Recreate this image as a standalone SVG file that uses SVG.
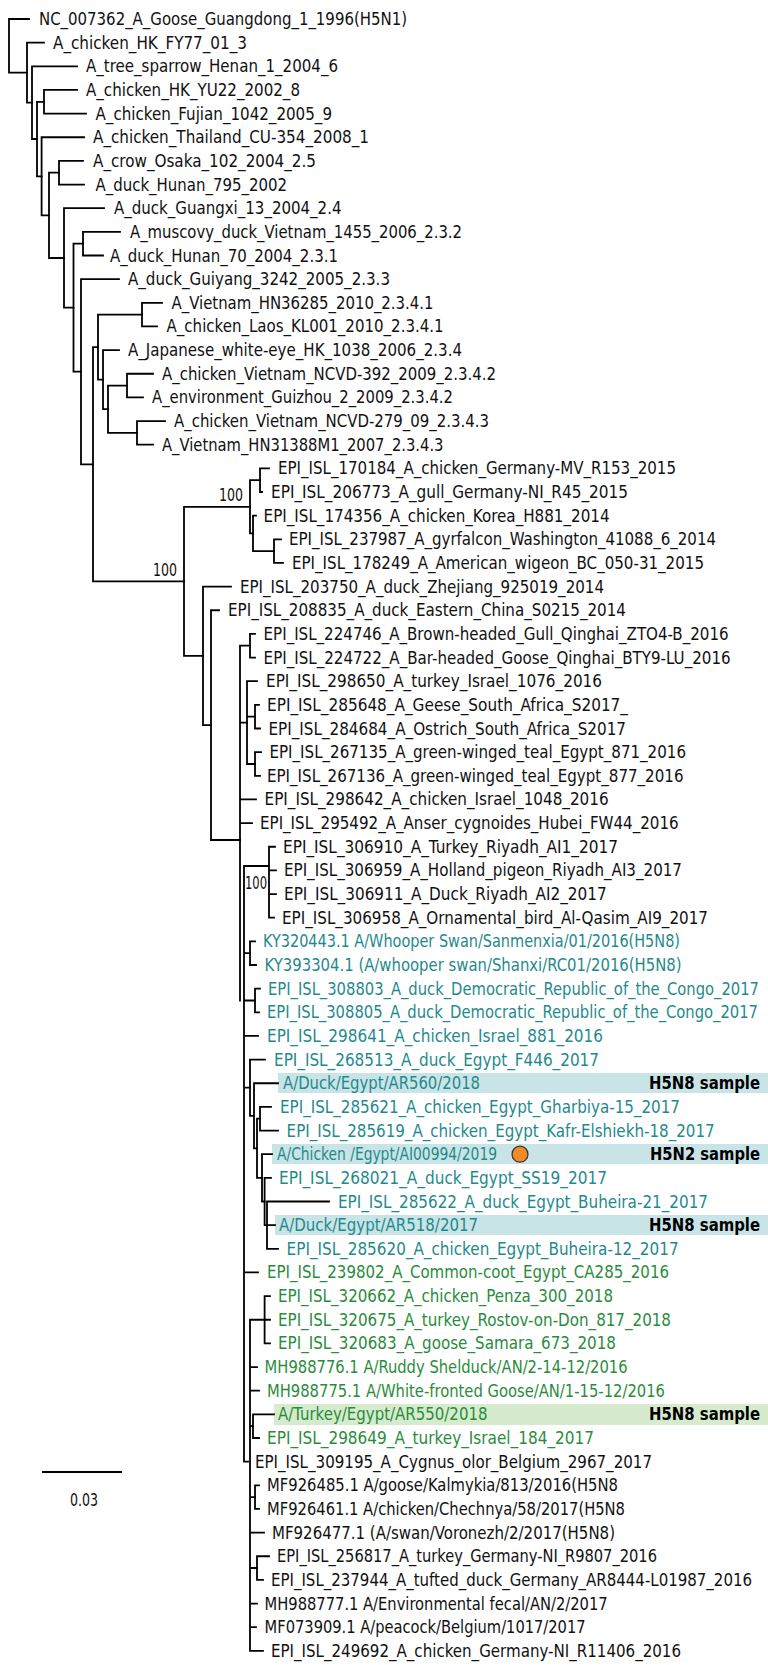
<svg xmlns="http://www.w3.org/2000/svg" width="768" height="1665" viewBox="0 0 768 1665">
<style>
text{font-family:"DejaVu Sans Condensed","DejaVu Sans","Liberation Sans",sans-serif;font-size:18px;fill:#111}
.tl{fill:#1f8a8c}
.gr{fill:#2a8c3c}
.hl{font-weight:bold;fill:#000}
.bs{font-size:17px}
.tree path{fill:none;stroke:#000;stroke-width:1.8;stroke-linecap:square}
.boxt{fill:#c9e4e7}
.boxg{fill:#d6ebcd}
</style>
<rect width="768" height="1665" fill="#fff"/>
<g id="highlights">
<rect class="boxt" x="278" y="1073" width="490" height="20"/>
<rect class="boxt" x="272" y="1144" width="496" height="20"/>
<rect class="boxt" x="275" y="1215" width="493" height="20"/>
<rect class="boxg" x="274" y="1404" width="494" height="21"/>
</g>
<g id="connectors" class="tree">
<path d="M9,19V72.7M9,19H29M9,72.7H27"/>
<path d="M27,42.65V102.7M27,42.65H44M27,102.7H32"/>
<path d="M32,66.3V139M32,66.3H77M32,139H37"/>
<path d="M37,101.8V176.3M37,101.8H44M37,176.3H41.6"/>
<path d="M44,89.95V113.6M44,89.95H77M44,113.6H86"/>
<path d="M41.6,137.25V215.3M41.6,137.25H84M41.6,215.3H49"/>
<path d="M49,172.7V258M49,172.7H59M49,258H64"/>
<path d="M59,160.9V184.55M59,160.9H83M59,184.55H84"/>
<path d="M64,208.2V307.7M64,208.2H104M64,307.7H73.5"/>
<path d="M73.5,243.7V371.7M73.5,243.7H83M73.5,371.7H81"/>
<path d="M83,231.85V255.5M83,231.85H120M83,255.5H103"/>
<path d="M81,279.15V464.3M81,279.15H119M81,464.3H93"/>
<path d="M93,347.2V581.3M93,347.2H98M93,581.3H184"/>
<path d="M98,314.6V379.7M98,314.6H142M98,379.7H103"/>
<path d="M142,302.8V326.45M142,302.8H162M142,326.45H157"/>
<path d="M103,350.1V409.2M103,350.1H119M103,409.2H108"/>
<path d="M108,385.6V432.9M108,385.6H127M108,432.9H137"/>
<path d="M127,373.75V397.4M127,373.75H153M127,397.4H143"/>
<path d="M137,421.05V444.7M137,421.05H165M137,444.7H153"/>
<path d="M184,506.8V655.9M184,506.8H250M184,655.9H203"/>
<path d="M250,480.2V533.4M250,480.2H260M250,533.4H253"/>
<path d="M260,468.35V492M260,468.35H269M260,492H262"/>
<path d="M253,515.65V551.1M253,515.65H256M253,551.1H274"/>
<path d="M274,539.3V562.95M274,539.3H281M274,562.95H283"/>
<path d="M203,586.6V725.1M203,586.6H231M203,725.1H211"/>
<path d="M211,610.25V840M211,610.25H219M211,840H240"/>
<path d="M240,645.7V1000.5M240,645.7H250M240,722.6H247M240,799.45H256M240,823.1H252"/>
<path d="M250,633.9V657.55M250,633.9H255M250,657.55H255"/>
<path d="M247,681.2V764M247,681.2H257M247,716.7H255M247,764H255"/>
<path d="M255,704.85V728.5M255,704.85H259M255,728.5H260"/>
<path d="M255,752.15V775.8M255,752.15H261M255,775.8H260"/>
<path d="M244,866V1461.65M244,866H269M244,953.2H250M244,1000.5H255M244,1035.95H258M244,1087.7H250M244,1272.45H258M244,1461.65H248"/>
<path d="M269,846.75V917.7M269,846.75H275M269,870.4H276M269,894.05H276M269,917.7H274"/>
<path d="M250,941.35V965M250,941.35H255M250,965H256"/>
<path d="M255,988.65V1012.3M255,988.65H260M255,1012.3H259"/>
<path d="M250,1059.6V1115.8M250,1059.6H265M250,1115.8H254"/>
<path d="M254,1083.25V1148.3M254,1083.25H278M254,1148.3H257"/>
<path d="M257,1118.7V1177.85M257,1118.7H260M257,1177.85H262"/>
<path d="M260,1106.9V1130.55M260,1106.9H271M260,1130.55H278"/>
<path d="M262,1154.2V1201.5M262,1154.2H272M262,1201.5H264.6"/>
<path d="M264.6,1177.85V1225.15M264.6,1177.85H271M264.6,1225.15H267"/>
<path d="M267,1201.5V1248.8M267,1201.5H329M267,1225.15H275M267,1248.8H278"/>
<path d="M250,1319.75V1650.85M250,1319.75H264.6M250,1367.05H257M250,1390.7H259M250,1426.2H253M250,1497.1H255M250,1532.6H264M250,1568H257M250,1603.55H257M250,1627.2H256M250,1650.85H263"/>
<path d="M264.6,1296.1V1343.4M264.6,1296.1H270M264.6,1319.75H270M264.6,1343.4H270"/>
<path d="M253,1414.35V1438M253,1414.35H274M253,1438H259"/>
<path d="M255,1485.3V1508.95M255,1485.3H259M255,1508.95H259"/>
<path d="M257,1556.25V1579.9M257,1556.25H269M257,1579.9H263"/>
</g>
<g id="support">
<text class="bs" x="177" y="576" text-anchor="end" textLength="24" lengthAdjust="spacingAndGlyphs">100</text>
<text class="bs" x="243" y="501" text-anchor="end" textLength="24" lengthAdjust="spacingAndGlyphs">100</text>
<text class="bs" x="267" y="889" text-anchor="end" textLength="22" lengthAdjust="spacingAndGlyphs">100</text>
</g>
<g id="scale">
<path d="M42,1472H122" stroke="#000" stroke-width="1.8"/>
<text x="70" y="1506" textLength="28" lengthAdjust="spacingAndGlyphs">0.03</text>
</g>
<g id="leaves">
<g id="n1"><text x="39" y="25" textLength="368" lengthAdjust="spacingAndGlyphs">NC_007362_A_Goose_Guangdong_1_1996(H5N1)</text></g>
<g id="n2"><text x="53" y="48.65" textLength="194" lengthAdjust="spacingAndGlyphs">A_chicken_HK_FY77_01_3</text></g>
<g id="n3"><text x="86" y="72.3" textLength="252" lengthAdjust="spacingAndGlyphs">A_tree_sparrow_Henan_1_2004_6</text></g>
<g id="n4"><text x="86" y="95.95" textLength="214" lengthAdjust="spacingAndGlyphs">A_chicken_HK_YU22_2002_8</text></g>
<g id="n5"><text x="95.5" y="119.6" textLength="236.5" lengthAdjust="spacingAndGlyphs">A_chicken_Fujian_1042_2005_9</text></g>
<g id="n6"><text x="93" y="143.25" textLength="276" lengthAdjust="spacingAndGlyphs">A_chicken_Thailand_CU-354_2008_1</text></g>
<g id="n7"><text x="93" y="166.9" textLength="223" lengthAdjust="spacingAndGlyphs">A_crow_Osaka_102_2004_2.5</text></g>
<g id="n8"><text x="95.5" y="190.55" textLength="191.5" lengthAdjust="spacingAndGlyphs">A_duck_Hunan_795_2002</text></g>
<g id="n9"><text x="114" y="214.2" textLength="227.5" lengthAdjust="spacingAndGlyphs">A_duck_Guangxi_13_2004_2.4</text></g>
<g id="n10"><text x="130" y="237.85" textLength="332" lengthAdjust="spacingAndGlyphs">A_muscovy_duck_Vietnam_1455_2006_2.3.2</text></g>
<g id="n11"><text x="110" y="261.5" textLength="228" lengthAdjust="spacingAndGlyphs">A_duck_Hunan_70_2004_2.3.1</text></g>
<g id="n12"><text x="128" y="285.15" textLength="262" lengthAdjust="spacingAndGlyphs">A_duck_Guiyang_3242_2005_2.3.3</text></g>
<g id="n13"><text x="171.5" y="308.8" textLength="262" lengthAdjust="spacingAndGlyphs">A_Vietnam_HN36285_2010_2.3.4.1</text></g>
<g id="n14"><text x="166.6" y="332.45" textLength="277" lengthAdjust="spacingAndGlyphs">A_chicken_Laos_KL001_2010_2.3.4.1</text></g>
<g id="n15"><text x="128" y="356.1" textLength="334" lengthAdjust="spacingAndGlyphs">A_Japanese_white-eye_HK_1038_2006_2.3.4</text></g>
<g id="n16"><text x="162" y="379.75" textLength="334" lengthAdjust="spacingAndGlyphs">A_chicken_Vietnam_NCVD-392_2009_2.3.4.2</text></g>
<g id="n17"><text x="152" y="403.4" textLength="301" lengthAdjust="spacingAndGlyphs">A_environment_Guizhou_2_2009_2.3.4.2</text></g>
<g id="n18"><text x="174" y="427.05" textLength="315" lengthAdjust="spacingAndGlyphs">A_chicken_Vietnam_NCVD-279_09_2.3.4.3</text></g>
<g id="n19"><text x="162" y="450.7" textLength="281.5" lengthAdjust="spacingAndGlyphs">A_Vietnam_HN31388M1_2007_2.3.4.3</text></g>
<g id="n20"><text x="278" y="474.35" textLength="398" lengthAdjust="spacingAndGlyphs">EPI_ISL_170184_A_chicken_Germany-MV_R153_2015</text></g>
<g id="n21"><text x="271" y="498" textLength="357" lengthAdjust="spacingAndGlyphs">EPI_ISL_206773_A_gull_Germany-NI_R45_2015</text></g>
<g id="n22"><text x="263.6" y="521.65" textLength="346" lengthAdjust="spacingAndGlyphs">EPI_ISL_174356_A_chicken_Korea_H881_2014</text></g>
<g id="n23"><text x="289" y="545.3" textLength="427" lengthAdjust="spacingAndGlyphs">EPI_ISL_237987_A_gyrfalcon_Washington_41088_6_2014</text></g>
<g id="n24"><text x="292" y="568.95" textLength="412" lengthAdjust="spacingAndGlyphs">EPI_ISL_178249_A_American_wigeon_BC_050-31_2015</text></g>
<g id="n25"><text x="240" y="592.6" textLength="364" lengthAdjust="spacingAndGlyphs">EPI_ISL_203750_A_duck_Zhejiang_925019_2014</text></g>
<g id="n26"><text x="228" y="616.25" textLength="398" lengthAdjust="spacingAndGlyphs">EPI_ISL_208835_A_duck_Eastern_China_S0215_2014</text></g>
<g id="n27"><text x="263.6" y="639.9" textLength="465" lengthAdjust="spacingAndGlyphs">EPI_ISL_224746_A_Brown-headed_Gull_Qinghai_ZTO4-B_2016</text></g>
<g id="n28"><text x="263.6" y="663.55" textLength="467" lengthAdjust="spacingAndGlyphs">EPI_ISL_224722_A_Bar-headed_Goose_Qinghai_BTY9-LU_2016</text></g>
<g id="n29"><text x="266" y="687.2" textLength="336" lengthAdjust="spacingAndGlyphs">EPI_ISL_298650_A_turkey_Israel_1076_2016</text></g>
<g id="n30"><text x="267" y="710.85" textLength="361" lengthAdjust="spacingAndGlyphs">EPI_ISL_285648_A_Geese_South_Africa_S2017_</text></g>
<g id="n31"><text x="268.5" y="734.5" textLength="357.5" lengthAdjust="spacingAndGlyphs">EPI_ISL_284684_A_Ostrich_South_Africa_S2017</text></g>
<g id="n32"><text x="269.5" y="758.15" textLength="416.5" lengthAdjust="spacingAndGlyphs">EPI_ISL_267135_A_green-winged_teal_Egypt_871_2016</text></g>
<g id="n33"><text x="267" y="781.8" textLength="416.5" lengthAdjust="spacingAndGlyphs">EPI_ISL_267136_A_green-winged_teal_Egypt_877_2016</text></g>
<g id="n34"><text x="264.6" y="805.45" textLength="344" lengthAdjust="spacingAndGlyphs">EPI_ISL_298642_A_chicken_Israel_1048_2016</text></g>
<g id="n35"><text x="260" y="829.1" textLength="418.6" lengthAdjust="spacingAndGlyphs">EPI_ISL_295492_A_Anser_cygnoides_Hubei_FW44_2016</text></g>
<g id="n36"><text x="283" y="852.75" textLength="335" lengthAdjust="spacingAndGlyphs">EPI_ISL_306910_A_Turkey_Riyadh_AI1_2017</text></g>
<g id="n37"><text x="284" y="876.4" textLength="398" lengthAdjust="spacingAndGlyphs">EPI_ISL_306959_A_Holland_pigeon_Riyadh_AI3_2017</text></g>
<g id="n38"><text x="284" y="900.05" textLength="322.6" lengthAdjust="spacingAndGlyphs">EPI_ISL_306911_A_Duck_Riyadh_AI2_2017</text></g>
<g id="n39"><text x="282" y="923.7" textLength="426" lengthAdjust="spacingAndGlyphs">EPI_ISL_306958_A_Ornamental_bird_Al-Qasim_AI9_2017</text></g>
<g id="n40"><text class="tl" x="263" y="947.35" textLength="417" lengthAdjust="spacingAndGlyphs">KY320443.1 A/Whooper Swan/Sanmenxia/01/2016(H5N8)</text></g>
<g id="n41"><text class="tl" x="264.6" y="971" textLength="417" lengthAdjust="spacingAndGlyphs">KY393304.1 (A/whooper swan/Shanxi/RC01/2016(H5N8)</text></g>
<g id="n42"><text class="tl" x="268" y="994.65" textLength="491" lengthAdjust="spacingAndGlyphs">EPI_ISL_308803_A_duck_Democratic_Republic_of_the_Congo_2017</text></g>
<g id="n43"><text class="tl" x="267" y="1018.3" textLength="491" lengthAdjust="spacingAndGlyphs">EPI_ISL_308805_A_duck_Democratic_Republic_of_the_Congo_2017</text></g>
<g id="n44"><text class="tl" x="267" y="1041.95" textLength="336" lengthAdjust="spacingAndGlyphs">EPI_ISL_298641_A_chicken_Israel_881_2016</text></g>
<g id="n45"><text class="tl" x="274" y="1065.6" textLength="325" lengthAdjust="spacingAndGlyphs">EPI_ISL_268513_A_duck_Egypt_F446_2017</text></g>
<g id="n46"><text class="tl" x="283" y="1089.25" textLength="197" lengthAdjust="spacingAndGlyphs">A/Duck/Egypt/AR560/2018</text><text class="hl" x="760" y="1089.25" text-anchor="end" textLength="111" lengthAdjust="spacingAndGlyphs">H5N8 sample</text></g>
<g id="n47"><text class="tl" x="280" y="1112.9" textLength="400" lengthAdjust="spacingAndGlyphs">EPI_ISL_285621_A_chicken_Egypt_Gharbiya-15_2017</text></g>
<g id="n48"><text class="tl" x="286.6" y="1136.55" textLength="428" lengthAdjust="spacingAndGlyphs">EPI_ISL_285619_A_chicken_Egypt_Kafr-Elshiekh-18_2017</text></g>
<g id="n49"><text class="tl" x="277" y="1160.2" textLength="220" lengthAdjust="spacingAndGlyphs">A/Chicken /Egypt/AI00994/2019</text><circle cx="520" cy="1154.2" r="8" fill="#f28a2a" stroke="#333" stroke-width="1.2"/><text class="hl" x="760" y="1160.2" text-anchor="end" textLength="110" lengthAdjust="spacingAndGlyphs">H5N2 sample</text></g>
<g id="n50"><text class="tl" x="279" y="1183.85" textLength="328" lengthAdjust="spacingAndGlyphs">EPI_ISL_268021_A_duck_Egypt_SS19_2017</text></g>
<g id="n51"><text class="tl" x="338" y="1207.5" textLength="370" lengthAdjust="spacingAndGlyphs">EPI_ISL_285622_A_duck_Egypt_Buheira-21_2017</text></g>
<g id="n52"><text class="tl" x="279" y="1231.15" textLength="199" lengthAdjust="spacingAndGlyphs">A/Duck/Egypt/AR518/2017</text><text class="hl" x="760" y="1231.15" text-anchor="end" textLength="111" lengthAdjust="spacingAndGlyphs">H5N8 sample</text></g>
<g id="n53"><text class="tl" x="286.6" y="1254.8" textLength="392" lengthAdjust="spacingAndGlyphs">EPI_ISL_285620_A_chicken_Egypt_Buheira-12_2017</text></g>
<g id="n54"><text class="gr" x="267" y="1278.45" textLength="402" lengthAdjust="spacingAndGlyphs">EPI_ISL_239802_A_Common-coot_Egypt_CA285_2016</text></g>
<g id="n55"><text class="gr" x="278" y="1302.1" textLength="335" lengthAdjust="spacingAndGlyphs">EPI_ISL_320662_A_chicken_Penza_300_2018</text></g>
<g id="n56"><text class="gr" x="278" y="1325.75" textLength="393" lengthAdjust="spacingAndGlyphs">EPI_ISL_320675_A_turkey_Rostov-on-Don_817_2018</text></g>
<g id="n57"><text class="gr" x="278" y="1349.4" textLength="338" lengthAdjust="spacingAndGlyphs">EPI_ISL_320683_A_goose_Samara_673_2018</text></g>
<g id="n58"><text class="gr" x="264.6" y="1373.05" textLength="363" lengthAdjust="spacingAndGlyphs">MH988776.1 A/Ruddy Shelduck/AN/2-14-12/2016</text></g>
<g id="n59"><text class="gr" x="267" y="1396.7" textLength="398" lengthAdjust="spacingAndGlyphs">MH988775.1 A/White-fronted Goose/AN/1-15-12/2016</text></g>
<g id="n60"><text class="gr" x="278" y="1420.35" textLength="209.5" lengthAdjust="spacingAndGlyphs">A/Turkey/Egypt/AR550/2018</text><text class="hl" x="760" y="1420.35" text-anchor="end" textLength="111" lengthAdjust="spacingAndGlyphs">H5N8 sample</text></g>
<g id="n61"><text class="gr" x="267" y="1444" textLength="327" lengthAdjust="spacingAndGlyphs">EPI_ISL_298649_A_turkey_Israel_184_2017</text></g>
<g id="n62"><text x="255" y="1467.65" textLength="397" lengthAdjust="spacingAndGlyphs">EPI_ISL_309195_A_Cygnus_olor_Belgium_2967_2017</text></g>
<g id="n63"><text x="267" y="1491.3" textLength="351" lengthAdjust="spacingAndGlyphs">MF926485.1 A/goose/Kalmykia/813/2016(H5N8</text></g>
<g id="n64"><text x="267" y="1514.95" textLength="358" lengthAdjust="spacingAndGlyphs">MF926461.1 A/chicken/Chechnya/58/2017(H5N8</text></g>
<g id="n65"><text x="272" y="1538.6" textLength="343" lengthAdjust="spacingAndGlyphs">MF926477.1 (A/swan/Voronezh/2/2017(H5N8)</text></g>
<g id="n66"><text x="277" y="1562.25" textLength="380" lengthAdjust="spacingAndGlyphs">EPI_ISL_256817_A_turkey_Germany-NI_R9807_2016</text></g>
<g id="n67"><text x="271" y="1585.9" textLength="481" lengthAdjust="spacingAndGlyphs">EPI_ISL_237944_A_tufted_duck_Germany_AR8444-L01987_2016</text></g>
<g id="n68"><text x="264.6" y="1609.55" textLength="343" lengthAdjust="spacingAndGlyphs">MH988777.1 A/Environmental fecal/AN/2/2017</text></g>
<g id="n69"><text x="264.6" y="1633.2" textLength="321" lengthAdjust="spacingAndGlyphs">MF073909.1 A/peacock/Belgium/1017/2017</text></g>
<g id="n70"><text x="271" y="1656.85" textLength="410" lengthAdjust="spacingAndGlyphs">EPI_ISL_249692_A_chicken_Germany-NI_R11406_2016</text></g>
</g>
</svg>
